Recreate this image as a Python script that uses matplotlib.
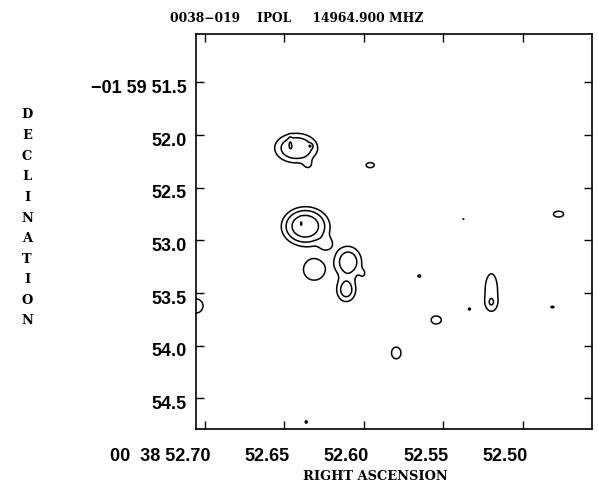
import numpy as np
import matplotlib
matplotlib.use('agg')
import matplotlib.pyplot as plt
from matplotlib.transforms import ScaledTranslation

# map limits: RA seconds (00 38 ..), Dec arcsec (-01 59 ..)
ra_lim = (52.7057, 52.4563)
dec_lim = (54.79, 51.04)

# clean components: RA (s), Dec ("), peak, sigma RA (s), sigma Dec (")
comp_ra = [52.6426, 52.6464, 52.6338, 52.6351,
           52.6370, 52.6351, 52.6237, 52.6395,
           52.6313,
           52.6098, 52.6111, 52.6004,
           52.596, 52.4774,
           52.5197, 52.5197,
           52.5544, 52.5796,
           52.5651, 52.5335, 52.4812, 52.5373, 52.6363,
           52.7057]
comp_dec = [52.123, 52.076, 52.104, 52.285,
            52.863, 52.892, 53.034, 52.825,
            53.281,
            53.205, 53.471, 53.317,
            52.285, 52.750,
            53.471, 53.594,
            53.755, 54.068,
            53.338, 53.651, 53.632, 52.797, 54.723,
            53.622]
comp_peak = [3.9, 1.3, 2.2, 0.9,
             6.8, 0.9, 1.2, 1.5,
             1.8,
             3.2, 2.8, 0.8,
             1.3, 1.3,
             1.5, 1.0,
             1.3, 1.3,
             1.1, 1.05, 1.08, 1.02, 1.08,
             1.5]
comp_sra = [0.0082, 0.00076, 0.00095, 0.0025,
            0.0069, 0.0126, 0.0032, 0.0005,
            0.0060,
            0.0055, 0.0041, 0.0019,
            0.0035, 0.0044,
            0.0043, 0.0025,
            0.0044, 0.0041,
            0.0019, 0.0019, 0.0025, 0.0013, 0.0016,
            0.0049]
comp_sdec = [0.085, 0.038, 0.014, 0.038,
             0.085, 0.152, 0.047, 0.028,
             0.088,
             0.095, 0.076, 0.038,
             0.033, 0.038,
             0.171, 0.047,
             0.052, 0.076,
             0.024, 0.028, 0.019, 0.019, 0.028,
             0.074]

levels = [1, 2, 4, 8]

ra = np.linspace(min(ra_lim), max(ra_lim), 800)
dec = np.linspace(min(dec_lim), max(dec_lim), 800)
RA, DEC = np.meshgrid(ra, dec)
img = np.zeros_like(RA)
for r0, d0, a, sr, sd in zip(comp_ra, comp_dec, comp_peak, comp_sra, comp_sdec):
    img += a * np.exp(-0.5 * (((RA - r0) / sr) ** 2 + ((DEC - d0) / sd) ** 2))

serif = 'DejaVu Serif'
sans = 'Liberation Sans'
fig = plt.figure(figsize=(5.98, 4.87), dpi=100)
ax = fig.add_axes([196 / 598, 1 - 429 / 487, 396 / 598, 395 / 487])
ax.contour(RA, DEC, img, levels=levels, colors='black', linewidths=1.1)
ax.set_xlim(ra_lim)
ax.set_ylim(dec_lim)

xt = [52.70, 52.65, 52.60, 52.55, 52.50]
xt_labels = ['00  38 52.70', '52.65', '52.60', '52.55', '52.50']
yt = [51.5, 52.0, 52.5, 53.0, 53.5, 54.0, 54.5]
yt_labels = ['\u221201 59 51.5', '52.0', '52.5', '53.0', '53.5', '54.0', '54.5']

ax.set_xticks(xt)
ax.set_xticklabels(xt_labels, fontfamily=sans, fontweight='bold', fontsize=13, ha='right')
ax.set_yticks(yt)
ax.set_yticklabels(yt_labels, fontfamily=sans, fontweight='bold', fontsize=13, va='center')
ax.tick_params(direction='in', length=6, width=1, top=True, right=True)
ax.tick_params(axis='x', pad=14)
ax.tick_params(axis='y', pad=7)
for lab in ax.get_xticklabels():
    lab.set_transform(lab.get_transform() + ScaledTranslation(5 / 100, 0, fig.dpi_scale_trans))
for lab in ax.get_yticklabels():
    lab.set_transform(lab.get_transform() + ScaledTranslation(0, -6 / 100, fig.dpi_scale_trans))
for s in ax.spines.values():
    s.set_linewidth(1.2)

fig.text(375 / 598, 1 - 476 / 487, 'RIGHT ASCENSION', ha='center', va='center',
         fontfamily=serif, fontweight='bold', fontsize=9.4)
fig.text(27 / 598, 1 - 218 / 487, '\n'.join('DECLINATION'), ha='center', va='center',
         fontfamily=serif, fontweight='bold', fontsize=9.4, linespacing=1.76)
fig.text(170 / 598, 1 - 19 / 487, '0038\u2212019    IPOL     14964.900 MHZ', ha='left', va='center',
         fontfamily=serif, fontweight='bold', fontsize=8.8)

fig.savefig('out.png', dpi=100)
